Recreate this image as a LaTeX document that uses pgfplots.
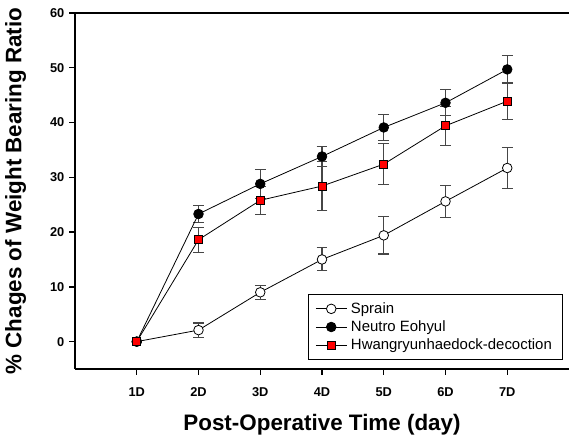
\documentclass[border=0pt]{standalone}
\usepackage{fontspec}
\setmainfont{Liberation Sans}
\usepackage{pgfplots}
\pgfplotsset{compat=1.18}
\usetikzlibrary{calc}
\definecolor{ErrGray}{RGB}{70,70,70}
\definecolor{HwRed}{RGB}{255,0,0}
\pgfplotsset{
  errstyle/.style={
    forget plot, draw=none, mark=none,
    error bars/.cd, y dir=both, y explicit,
    error bar style={ErrGray, line width=0.8pt},
    error mark options={rotate=90, mark size=4pt, ErrGray, line width=0.8pt}
  }
}
\begin{document}
\begin{tikzpicture}
\begin{axis}[
  name=ax,
  scale only axis,
  width=370.5pt, height=267pt,
  xmin=0, xmax=8, ymin=-5, ymax=60,
  xtick={1,...,7}, xticklabels={1D,2D,3D,4D,5D,6D,7D},
  ytick={0,10,...,60},
  axis x line=box, axis y line=left,
  axis line style={-, line width=1.5pt},
  tick pos=left, tick align=outside,
  major tick length=4.5pt,
  tick style={black, line width=1pt},
  /pgf/number format/assume math mode=true,
  ticklabel style={font=\fontsize{9.6}{11}\selectfont\bfseries},
  xticklabel style={yshift=-6pt},
  xlabel={Post-Operative Time (day)},
  ylabel={\% Chages of Weight Bearing Ratio},
  label style={font=\fontsize{16.8}{19}\selectfont\bfseries},
  xlabel style={yshift=-6pt},
  ylabel style={yshift=11pt},
  legend style={at={(0.988,0.025)}, anchor=south east, draw=black, line width=0.8pt,
    font=\fontsize{11.2}{13}\selectfont, row sep=0pt, inner xsep=5pt, inner ysep=4pt,
    nodes={inner xsep=3pt}},
  legend cell align=left,
  legend image code/.code={
    \draw[#1, mark=none] (0pt,0pt) -- (23pt,0pt);
    \draw[#1, only marks] plot coordinates {(11.5pt,0pt)};
  },
]
% error bars first, behind the lines and markers
\addplot[errstyle] coordinates {
  (2,2.1) +- (0,1.3) (3,9.0) +- (0,1.3) (4,15.0) +- (0,2.1)
  (5,19.4) +- (0,3.4) (6,25.6) +- (0,2.9) (7,31.7) +- (0,3.8)};
\addplot[errstyle] coordinates {
  (2,23.3) +- (0,1.5) (3,28.8) +- (0,2.7) (4,33.8) +- (0,1.9)
  (5,39.1) +- (0,2.3) (6,43.6) +- (0,2.4) (7,49.7) +- (0,2.6)};
\addplot[errstyle] coordinates {
  (2,18.6) +- (0,2.3) (3,25.8) +- (0,2.6) (4,28.4) +- (0,4.4)
  (5,32.4) +- (0,3.7) (6,39.4) +- (0,3.6) (7,43.9) +- (0,3.4)};

\addplot[black, line width=0.6pt, mark=*, mark options={fill=white, draw=black, mark size=3.6pt}]
  coordinates {(1,0) (2,2.1) (3,9.0) (4,15.0) (5,19.4) (6,25.6) (7,31.7)};
\addlegendentry{Sprain}
\addplot[black, line width=0.6pt, mark=*, mark options={fill=black, draw=black, mark size=3.6pt}]
  coordinates {(1,0) (2,23.3) (3,28.8) (4,33.8) (5,39.1) (6,43.6) (7,49.7)};
\addlegendentry{Neutro Eohyul}
\addplot[black, line width=0.6pt, mark=square*, mark options={fill=HwRed, draw=black, mark size=3pt}]
  coordinates {(1,0) (2,18.6) (3,25.8) (4,28.4) (5,32.4) (6,39.4) (7,43.9)};
\addlegendentry{Hwangryunhaedock-decoction}
\end{axis}
\pgfresetboundingbox
\path[use as bounding box] ($(ax.south west)+(-56.25pt,-51pt)$) rectangle ($(ax.north east)+(0pt,9.75pt)$);
\end{tikzpicture}
\end{document}
